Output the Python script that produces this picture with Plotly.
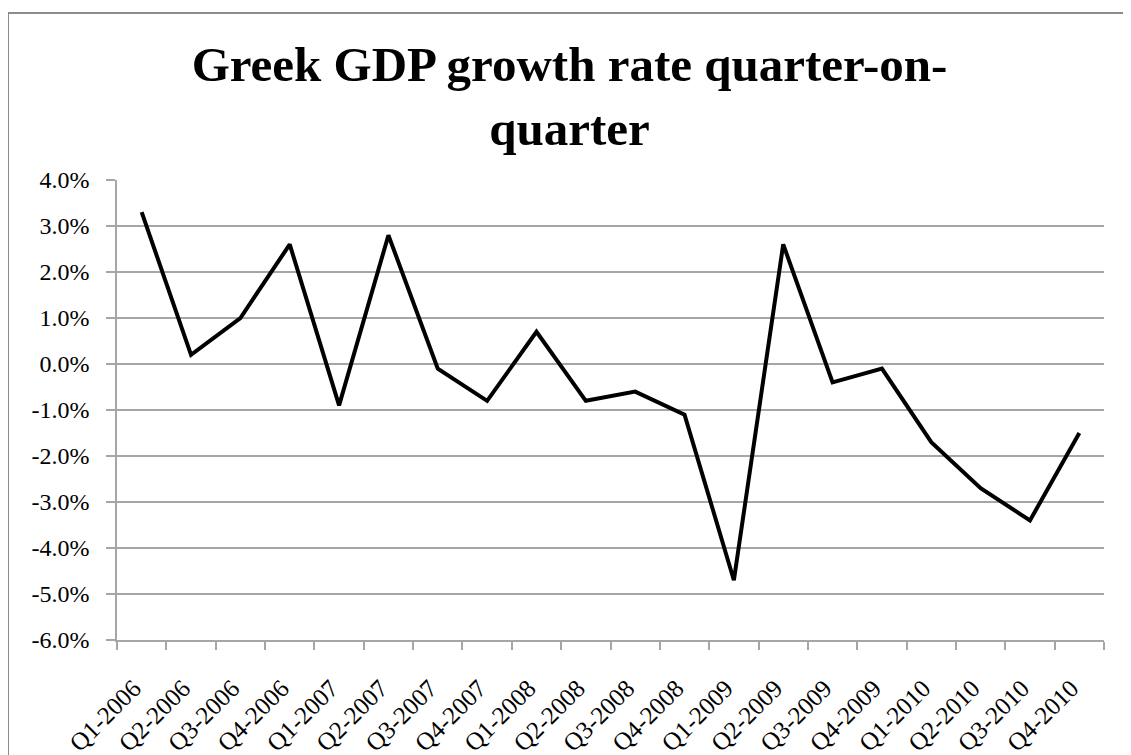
import plotly.graph_objects as go

quarters = ["Q1-2006", "Q2-2006", "Q3-2006", "Q4-2006",
            "Q1-2007", "Q2-2007", "Q3-2007", "Q4-2007",
            "Q1-2008", "Q2-2008", "Q3-2008", "Q4-2008",
            "Q1-2009", "Q2-2009", "Q3-2009", "Q4-2009",
            "Q1-2010", "Q2-2010", "Q3-2010", "Q4-2010"]
growth = [0.033, 0.002, 0.010, 0.026,
          -0.009, 0.028, -0.001, -0.008,
          0.007, -0.008, -0.006, -0.011,
          -0.047, 0.026, -0.004, -0.001,
          -0.017, -0.027, -0.034, -0.015]

y_tick_values = [-0.06, -0.05, -0.04, -0.03, -0.02, -0.01, 0.0, 0.01, 0.02, 0.03, 0.04]
y_tick_labels = ["-6.0%", "-5.0%", "-4.0%", "-3.0%", "-2.0%", "-1.0%",
                 "0.0%", "1.0%", "2.0%", "3.0%", "4.0%"]

title_text = "Greek GDP growth rate quarter-on-<br>quarter"

fig = go.Figure()
fig.add_trace(go.Scatter(x=quarters, y=growth, mode="lines",
                         line=dict(color="black", width=4),
                         hoverinfo="x+y"))

grid = "#a6a6a6"
fig.update_layout(
    width=1123, height=747,
    margin=dict(l=109, r=27, t=172, b=115),
    paper_bgcolor="white", plot_bgcolor="white",
    showlegend=False,
    title=dict(text=title_text, x=0.5, xanchor="center",
               y=1 - 73 / 747, yanchor="middle",
               font=dict(family="Liberation Serif", size=49, color="black",
                         weight="bold")),
    font=dict(family="Liberation Serif", size=24, color="black"),
    xaxis=dict(type="category", range=[-0.5, len(quarters) - 0.5],
               tickson="boundaries", ticks="outside",
               ticklen=8, tickwidth=1.5, tickcolor=grid,
               showline=True, linecolor=grid, linewidth=1.5,
               showgrid=False, tickangle=-45, automargin=False,
               ticklabelshift=-8, ticklabelstandoff=22,
               tickfont=dict(family="Liberation Serif", size=25, color="black")),
    yaxis=dict(range=[-0.06, 0.04], tickmode="array",
               tickvals=y_tick_values, ticktext=y_tick_labels,
               ticks="outside", ticklen=9, tickwidth=1.5, tickcolor=grid,
               showline=True, linecolor=grid, linewidth=1.5,
               showgrid=True, gridcolor=grid, gridwidth=1.5,
               zeroline=False, automargin=False, ticklabelstandoff=12,
               tickfont=dict(family="Liberation Serif", size=24, color="black")),
    shapes=[dict(type="rect", xref="paper", yref="paper",
                 x0=(8 - 117) / 987, x1=1.2,
                 y0=-0.6, y1=(640 - 13) / 460,
                 line=dict(color="#8c8c8c", width=2), layer="below")],
)

fig.write_html("out.html")
